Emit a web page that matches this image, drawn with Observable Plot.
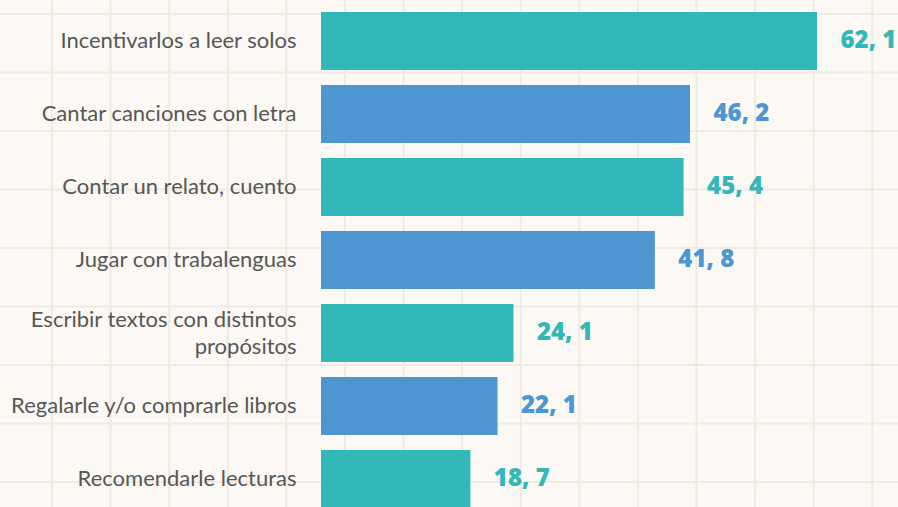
<!DOCTYPE html>
<html>
<head>
<meta charset="utf-8">
<script src="https://cdn.jsdelivr.net/npm/d3@7"></script>
<script src="https://cdn.jsdelivr.net/npm/@observablehq/plot@0.6"></script>
<style>
  html, body { margin: 0; padding: 0; }
  body {
    width: 898px; height: 507px; overflow: hidden;
    background-color: #fcf8f3;
    background-image:
      linear-gradient(to right, #eeeae4 0, #eeeae4 2px, transparent 2px),
      linear-gradient(to bottom, #eeeae4 0, #eeeae4 2px, transparent 2px);
    background-size: 58.6px 58.5px;
    background-position: 51px 13px;
  }
  #chart svg { background: transparent; display: block; }
</style>
</head>
<body>
<div id="chart"></div>
<script>
const categories = [
  "Incentivarlos a leer solos",
  "Cantar canciones con letra",
  "Contar un relato, cuento",
  "Jugar con trabalenguas",
  "Escribir textos con distintos\npropósitos",
  "Regalarle y/o comprarle libros",
  "Recomendarle lecturas"
];
const values = [62.1, 46.2, 45.4, 41.8, 24.1, 22.1, 18.7];
const valueLabels = ["62, 1", "46, 2", "45, 4", "41, 8", "24, 1", "22, 1", "18, 7"];
const seriesColors = ["#33b8b9", "#4d96d1"];

const data = categories.map((c, i) => ({
  cat: c,
  value: values[i],
  label: valueLabels[i],
  color: seriesColors[i % 2]
}));

const chart = Plot.plot({
  width: 898,
  height: 507,
  margin: 0,
  style: { background: "transparent", overflow: "hidden" },
  x: { domain: [0, 62.1], range: [321, 817], axis: null },
  y: { domain: categories, range: [-4.7, 525.9], padding: 0.2, axis: null },
  marks: [
    Plot.barX(data, { x: "value", y: "cat", fill: "color" }),
    Plot.text(data, {
      x: 0, y: "cat", text: "cat",
      textAnchor: "end", dx: -25, dy: -2, lineHeight: 1.23,
      fontFamily: "Lato", fontSize: 22, fill: "#575757"
    }),
    Plot.text(data, {
      x: "value", y: "cat", text: "label",
      textAnchor: "start", dx: 23, dy: -1,
      fontFamily: "'Open Sans'", fontWeight: 800, fontSize: 24, fill: "color"
    })
  ]
});
document.getElementById("chart").appendChild(chart);
</script>
</body>
</html>
